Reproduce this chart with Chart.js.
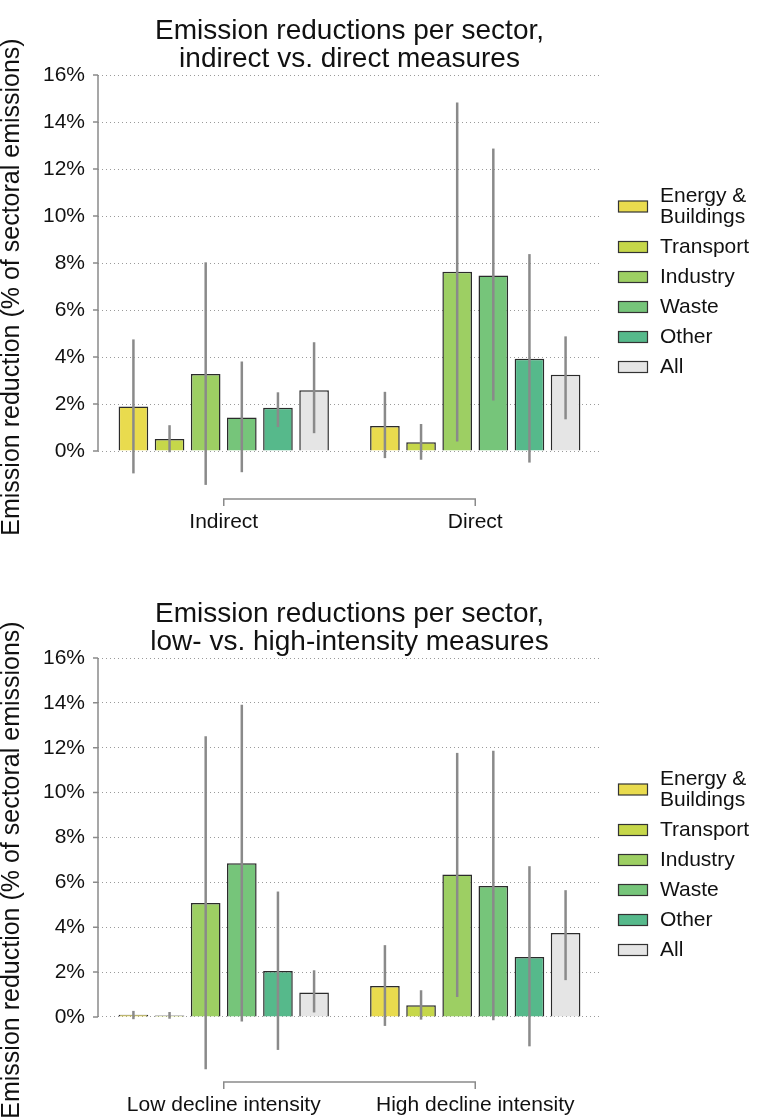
<!DOCTYPE html>
<html>
<head>
<meta charset="utf-8">
<script src="https://cdn.jsdelivr.net/npm/chart.js@4/dist/chart.umd.min.js"></script>
<style>
  body { margin: 0; background: #fff; }
  .box { position: relative; width: 757px; }
</style>
</head>
<body>
<div class="box" style="height:583px"><canvas id="topChart"></canvas></div>
<div class="box" style="height:537px"><canvas id="bottomChart"></canvas></div>
<script>
// sectors (legend lines) and their fill colours
const sectorNames = [["Energy &", "Buildings"], "Transport", "Industry", "Waste", "Other", "All"];
const sectorColors = ["#e9db4e", "#c6d74a", "#9dcf63", "#76c57a", "#56b98b", "#e5e5e5"];
const yTicks = [0, 2, 4, 6, 8, 10, 12, 14, 16];

// top panel: indirect vs direct, one row per sector [indirect, direct]
const topGroups = ["Indirect", "Direct"];
const topMean = [[1.90, 1.07], [0.51, 0.37], [3.28, 7.63], [1.43, 7.47], [1.84, 3.93], [2.59, 3.25]];
const topLow  = [[-0.95, -0.30], [-0.05, -0.37], [-1.44, 0.41], [-0.90, 2.15], [1.02, -0.49], [0.76, 1.35]];
const topHigh = [[4.75, 2.52], [1.10, 1.15], [8.03, 14.83], [3.81, 12.87], [2.50, 8.38], [4.63, 4.88]];

// bottom panel: low vs high decline intensity
const bottomGroups = ["Low decline intensity", "High decline intensity"];
const bottomMean = [[0.10, 1.38], [0.06, 0.52], [5.08, 6.35], [6.85, 5.84], [2.05, 2.67], [1.09, 3.74]];
const bottomLow  = [[-0.10, -0.40], [-0.08, -0.12], [-2.33, 0.89], [-0.20, -0.15], [-1.47, -1.31], [0.20, 1.64]];
const bottomHigh = [[0.27, 3.20], [0.22, 1.19], [12.51, 11.77], [13.92, 11.87], [5.59, 6.72], [2.08, 5.65]];

Chart.defaults.font.family = '"Liberation Sans", Arial, Helvetica, sans-serif';
Chart.defaults.color = "#111";

const errorBars = {
  id: "errorBars",
  afterDatasetsDraw(chart) {
    const ctx = chart.ctx, y = chart.scales.y;
    ctx.save();
    ctx.strokeStyle = "#8a8a8a";
    ctx.lineWidth = 2.5;
    chart.data.datasets.forEach((ds, i) => {
      chart.getDatasetMeta(i).data.forEach((bar, j) => {
        ctx.beginPath();
        ctx.moveTo(bar.x, y.getPixelForValue(ds.errLow[j]));
        ctx.lineTo(bar.x, y.getPixelForValue(ds.errHigh[j]));
        ctx.stroke();
      });
    });
    ctx.restore();
  }
};

// base-R looking axes: y line only over the tick range, x as a bracket
const rAxes = {
  id: "rAxes",
  afterDraw(chart) {
    const ctx = chart.ctx, x = chart.scales.x, y = chart.scales.y, a = chart.chartArea;
    ctx.save();
    ctx.strokeStyle = "#8a8a8a";
    ctx.lineWidth = 1.5;
    ctx.beginPath();
    ctx.moveTo(a.left, y.getPixelForValue(yTicks[0]));
    ctx.lineTo(a.left, y.getPixelForValue(yTicks[yTicks.length - 1]));
    yTicks.forEach(v => {
      const p = y.getPixelForValue(v);
      ctx.moveTo(a.left - 5, p);
      ctx.lineTo(a.left, p);
    });
    const x0 = x.getPixelForTick(0), x1 = x.getPixelForTick(x.ticks.length - 1);
    ctx.moveTo(x0, a.bottom + 7);
    ctx.lineTo(x0, a.bottom);
    ctx.lineTo(x1, a.bottom);
    ctx.lineTo(x1, a.bottom + 7);
    ctx.stroke();
    ctx.restore();
  }
};

// legend on the right, with a two-line first entry
const sideLegend = {
  id: "sideLegend",
  afterDraw(chart) {
    const ctx = chart.ctx, a = chart.chartArea;
    const lineH = 21;
    let top = a.top + 106;
    ctx.save();
    ctx.font = '21px "Liberation Sans", Arial, sans-serif';
    ctx.textBaseline = "middle";
    ctx.textAlign = "left";
    sectorNames.forEach((name, i) => {
      const lines = Array.isArray(name) ? name : [name];
      const h = lines.length * lineH + 9;
      const c = top + h / 2;
      ctx.fillStyle = sectorColors[i];
      ctx.fillRect(618, c - 5.5, 29, 11);
      ctx.strokeStyle = "#333";
      ctx.lineWidth = 1.2;
      ctx.strokeRect(618.5, c - 5.5, 29, 11);
      ctx.fillStyle = "#111";
      lines.forEach((t, k) => ctx.fillText(t, 660, c + (k - (lines.length - 1) / 2) * lineH));
      top += h;
    });
    ctx.restore();
  }
};

function makeChart(id, titleLines, groups, mean, low, high, yMin, padBottom) {
  new Chart(document.getElementById(id), {
    type: "bar",
    data: {
      labels: groups,
      datasets: sectorNames.map((n, i) => ({
        label: Array.isArray(n) ? n.join(" ") : n,
        data: mean[i],
        errLow: low[i],
        errHigh: high[i],
        backgroundColor: sectorColors[i],
        borderColor: "#2b2b2b",
        borderWidth: 1.5,
        barPercentage: 0.82,
        categoryPercentage: 0.862
      }))
    },
    options: {
      responsive: true,
      maintainAspectRatio: false,
      animation: false,
      layout: { padding: { left: 0, right: 156, top: 0, bottom: padBottom } },
      plugins: {
        legend: { display: false },
        tooltip: { enabled: false },
        title: {
          display: true,
          text: titleLines,
          fullSize: false,
          color: "#111",
          font: { size: 28, weight: "normal", lineHeight: 1.0 },
          padding: { top: 17, bottom: 2 }
        }
      },
      scales: {
        x: {
          grid: { display: false, drawTicks: false },
          border: { display: false },
          ticks: { font: { size: 21 }, color: "#111", padding: 11 },
          afterFit(s) { s.height = 38; }
        },
        y: {
          min: yMin,
          max: 16,
          afterBuildTicks(s) { s.ticks = yTicks.map(v => ({ value: v })); },
          ticks: { font: { size: 21 }, color: "#111", padding: 13, callback: v => v + "%" },
          grid: { color: "#9a9a9a", lineWidth: 1, drawTicks: false },
          border: { display: false, dash: [1, 3] },
          title: {
            display: true,
            text: "Emission reduction (% of sectoral emissions)",
            color: "#111",
            font: { size: 25, lineHeight: 1.0 },
            padding: { top: 0, bottom: 0 }
          },
          afterFit(s) { s.width = 98; }
        }
      }
    },
    plugins: [errorBars, rAxes, sideLegend]
  });
}

makeChart("topChart", ["Emission reductions per sector,", "indirect vs. direct measures"],
  topGroups, topMean, topLow, topHigh, -2.04, 46);
makeChart("bottomChart", ["Emission reductions per sector,", "low- vs. high-intensity measures"],
  bottomGroups, bottomMean, bottomLow, bottomHigh, -2.9, 0);
</script>
</body>
</html>
